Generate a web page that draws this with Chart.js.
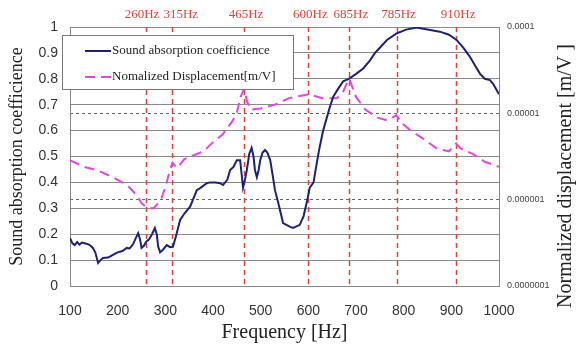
<!DOCTYPE html>
<html>
<head>
<meta charset="utf-8">
<script src="https://cdn.jsdelivr.net/npm/chart.js@4.4.0/dist/chart.umd.min.js"></script>
<style>
  html, body { margin: 0; padding: 0; background: #fff; }
</style>
</head>
<body>
<canvas id="c" width="580" height="345"></canvas>
<script>
// sound absorption coefficient (left axis)
const absFreq = [100,105,110,115,120,125,131,140,148,153,159,164,169,180,190,200,210,219,225,232,238,243,247,250,255,260,266,272,278,282,285,289,295,303,310,316,322,331,340,352,366,373,387,394,405,415,421,430,436,443,450,457,463,467,471,476,481,485,488,492,496,499,504,509,514,520,525,530,537,547,555,562,568,575,582,590,597,603,611,614,622,631,645,652,662,673,685,701,715,729,740,750,765,785,805,827,850,876,895,911,925,939,950,960,970,981,988,995,1000];
const absValues = [0.185,0.165,0.158,0.17,0.16,0.168,0.165,0.16,0.147,0.13,0.089,0.10,0.108,0.11,0.12,0.13,0.135,0.147,0.145,0.16,0.185,0.204,0.18,0.147,0.155,0.171,0.18,0.20,0.224,0.20,0.152,0.13,0.14,0.158,0.15,0.152,0.19,0.255,0.28,0.306,0.37,0.378,0.397,0.40,0.40,0.397,0.39,0.41,0.448,0.46,0.486,0.486,0.38,0.41,0.448,0.51,0.533,0.50,0.448,0.42,0.45,0.486,0.515,0.525,0.515,0.486,0.43,0.37,0.32,0.243,0.235,0.228,0.224,0.23,0.236,0.27,0.325,0.38,0.40,0.435,0.52,0.60,0.69,0.73,0.76,0.79,0.80,0.82,0.84,0.87,0.90,0.92,0.95,0.975,0.99,0.998,0.99,0.982,0.97,0.95,0.92,0.885,0.85,0.82,0.80,0.795,0.78,0.757,0.74];

// normalized displacement [m/V] (right axis, log)
const dispFreq = [100,130,160,190,220,240,250,260,275,290,300,310,315,325,340,380,400,420,440,450,458,465,472,480,500,530,560,600,630,660,672,680,686,692,700,720,745,765,785,795,815,840,870,895,910,920,945,970,1000];
const dispValues = [2.85e-6,2.4e-6,2.16e-6,1.82e-6,1.48e-6,1.12e-6,9.1e-7,8.2e-7,7.9e-7,9.8e-7,1.38e-6,2.24e-6,2.66e-6,2.32e-6,2.95e-6,3.63e-6,4.62e-6,5.69e-6,8.0e-6,1.02e-5,1.55e-5,1.91e-5,1.35e-5,1.1e-5,1.14e-5,1.26e-5,1.5e-5,1.66e-5,1.5e-5,1.5e-5,1.72e-5,2.19e-5,2.51e-5,2.04e-5,1.55e-5,1.1e-5,8.9e-6,8.3e-6,9.5e-6,7.8e-6,6.3e-6,5.13e-6,3.89e-6,3.63e-6,4.47e-6,3.89e-6,3.39e-6,2.75e-6,2.4e-6];

const markerFreqs = [260, 315, 465, 600, 685, 785, 910];
const markerLabels = ['260Hz', '315Hz', '465Hz', '600Hz', '685Hz', '785Hz', '910Hz'];

const rightTickValues = [1e-7, 1e-6, 1e-5, 1e-4];
const rightTickLabels = ['0.0000001', '0.000001', '0.00001', '0.0001'];

const serif = "'Liberation Serif', 'DejaVu Serif', serif";
const sans = "'Liberation Sans', Arial, sans-serif";

const markersPlugin = {
  id: 'markers',
  beforeDatasetsDraw(chart) {
    const ctx = chart.ctx, x = chart.scales.x, a = chart.chartArea;
    ctx.save();
    ctx.strokeStyle = '#e8413a';
    ctx.lineWidth = 1.5;
    ctx.setLineDash([5, 4]);
    markerFreqs.forEach(f => {
      const px = Math.round(x.getPixelForValue(f)) + 0.5;
      ctx.beginPath();
      ctx.moveTo(px, a.top);
      ctx.lineTo(px, a.bottom);
      ctx.stroke();
    });
    ctx.restore();
  },
  afterDraw(chart) {
    const ctx = chart.ctx, x = chart.scales.x;
    ctx.save();
    // marker labels, pushed apart where they would collide
    ctx.fillStyle = '#e8413a';
    ctx.font = '13px ' + serif;
    ctx.textAlign = 'center';
    ctx.textBaseline = 'middle';
    const cx = markerFreqs.map(f => x.getPixelForValue(f) + 2);
    const w = markerLabels.map(t => ctx.measureText(t).width);
    for (let i = 1; i < cx.length; i++) {
      const need = (w[i - 1] + w[i]) / 2 + 4;
      const gap = cx[i] - cx[i - 1];
      if (gap < need) {
        cx[i - 1] -= (need - gap) / 2;
        cx[i] += (need - gap) / 2;
      }
    }
    markerLabels.forEach((t, i) => ctx.fillText(t, cx[i], 15));

    // legend
    const ds = chart.data.datasets;
    ctx.setLineDash([]);
    ctx.fillStyle = '#fff';
    ctx.strokeStyle = '#777';
    ctx.lineWidth = 1;
    ctx.fillRect(62, 35, 231, 54);
    ctx.strokeRect(62.5, 35.5, 231, 54);
    ctx.font = '13px ' + serif;
    ctx.textAlign = 'left';
    ctx.fillStyle = '#222';
    [51, 77].forEach((y, i) => {
      ctx.strokeStyle = ds[i].borderColor;
      ctx.lineWidth = 2;
      ctx.setLineDash(ds[i].borderDash || []);
      ctx.beginPath();
      ctx.moveTo(85, y);
      ctx.lineTo(111, y);
      ctx.stroke();
      ctx.fillText(ds[i].label, 112, y);
    });

    // right axis title (reads bottom to top)
    ctx.setLineDash([]);
    ctx.translate(566, 176);
    ctx.rotate(-Math.PI / 2);
    ctx.textAlign = 'center';
    ctx.font = '20px ' + serif;
    ctx.fillText('Normalized displacement [m/V ]', 0, 0);
    ctx.restore();
  }
};

const chart = new Chart(document.getElementById('c'), {
  type: 'line',
  data: {
    datasets: [{
      label: 'Sound absorption coefficience',
      data: absFreq.map((f, i) => ({x: f, y: absValues[i]})),
      yAxisID: 'y',
      borderColor: '#1d2178',
      borderWidth: 2,
      pointRadius: 0,
      tension: 0
    }, {
      label: 'Nomalized Displacement[m/V]',
      data: dispFreq.map((f, i) => ({x: f, y: dispValues[i]})),
      yAxisID: 'y2',
      borderColor: '#e445e4',
      borderDash: [10, 6],
      borderWidth: 2,
      pointRadius: 0,
      tension: 0
    }]
  },
  options: {
    responsive: false,
    animation: false,
    layout: {padding: {top: 27}},
    plugins: {legend: {display: false}, tooltip: {enabled: false}},
    scales: {
      x: {
        type: 'linear',
        min: 100,
        max: 1000,
        afterFit: s => { s.height = 59; },
        ticks: {stepSize: 100, color: '#333', font: {family: sans, size: 14}, padding: 9,
          callback: v => String(v)},
        grid: {display: false},
        border: {display: true, color: '#888'},
        title: {display: true, text: 'Frequency [Hz]', color: '#222',
          font: {family: serif, size: 20}, padding: {top: 0, bottom: 0}}
      },
      y: {
        position: 'left',
        min: 0,
        max: 1,
        afterFit: s => { s.width = 70; },
        ticks: {stepSize: 0.1, color: '#333', font: {family: sans, size: 14}, padding: 12,
          callback: v => String(+v.toFixed(1))},
        grid: {color: '#8a8a8a', drawTicks: false},
        border: {color: '#888'},
        title: {display: true, text: 'Sound absorption coefficience', color: '#222',
          font: {family: serif, size: 18}, padding: {top: 6, bottom: 0}}
      },
      y2: {
        type: 'logarithmic',
        position: 'right',
        min: 1e-7,
        max: 1e-4,
        afterFit: s => { s.width = 81; },
        afterBuildTicks: s => { s.ticks = rightTickValues.map(v => ({value: v})); },
        ticks: {
          color: '#444',
          font: {family: sans, size: 9},
          padding: 8,
          callback: v => rightTickLabels[rightTickValues.indexOf(v)]
        },
        grid: {
          drawTicks: false,
          color: c => (c.tick && (c.tick.value === 1e-6 || c.tick.value === 1e-5)) ? '#666' : 'rgba(0,0,0,0)'
        },
        border: {color: '#888', dash: [3, 3]}
      }
    }
  },
  plugins: [markersPlugin]
});
</script>
</body>
</html>
